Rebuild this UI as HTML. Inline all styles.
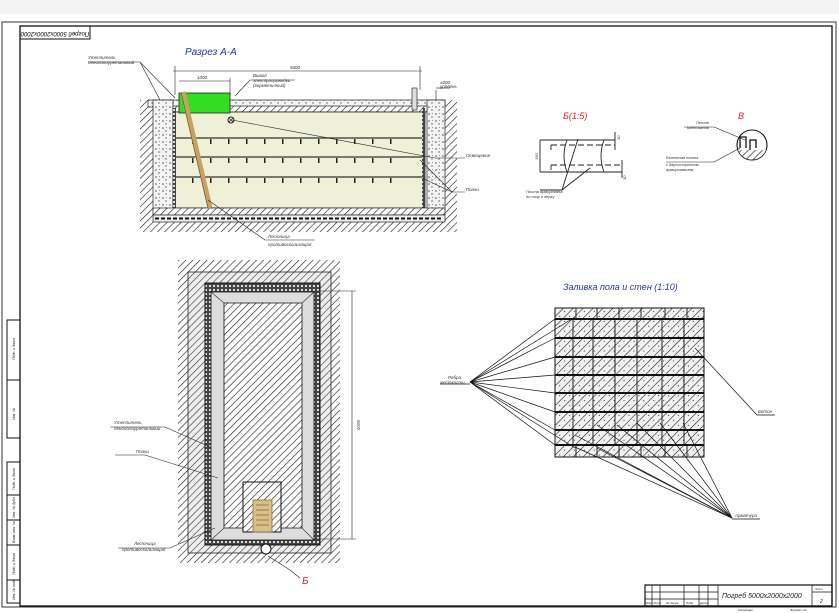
<!DOCTYPE html>
<html><head><meta charset="utf-8"><style>
html,body{margin:0;padding:0;background:#fff;width:839px;height:613px;overflow:hidden}
svg{display:block}
text{font-family:"Liberation Sans",sans-serif;font-style:italic}
</style></head><body>
<svg width="839" height="613" viewBox="0 0 839 613" xmlns="http://www.w3.org/2000/svg">
<defs>
<pattern id="h" width="5" height="5" patternUnits="userSpaceOnUse" patternTransform="rotate(45)"><rect width="5" height="5" fill="#fff"/><line x1="0" y1="0" x2="0" y2="5" stroke="#222" stroke-width="1.3"/></pattern>
<pattern id="hg" width="5" height="5" patternUnits="userSpaceOnUse" patternTransform="rotate(45)"><rect width="5" height="5" fill="#eee"/><line x1="0" y1="0" x2="0" y2="5" stroke="#333" stroke-width="1.2"/></pattern>
<pattern id="sp" width="7" height="7" patternUnits="userSpaceOnUse"><rect width="7" height="7" fill="#f4f4f4"/><circle cx="2" cy="2" r="0.8" fill="#555"/><circle cx="5" cy="5" r="0.7" fill="#555"/><circle cx="5.5" cy="1.5" r="0.5" fill="#777"/></pattern>
<pattern id="ins" width="4" height="4" patternUnits="userSpaceOnUse"><rect width="4" height="4" fill="#444"/><rect x="1" y="1" width="2" height="2" fill="#ddd"/></pattern>
<pattern id="gc" width="7" height="7" patternUnits="userSpaceOnUse" patternTransform="rotate(45)"><rect width="7" height="7" fill="#f2f2f2"/><line x1="0" y1="0" x2="0" y2="7" stroke="#222" stroke-width="1.2"/><circle cx="3.5" cy="3" r="0.6" fill="#444"/></pattern>
</defs>
<rect x="0" y="0" width="839" height="14" fill="#f3f3f3"/>
<!-- frame -->
<rect x="2" y="22" width="834" height="585" fill="none" stroke="#333" stroke-width="1"/>
<rect x="20" y="26" width="812" height="580" fill="none" stroke="#111" stroke-width="1.3"/>
<rect x="20" y="26" width="70" height="13" fill="none" stroke="#111"/>
<text x="55" y="33" font-size="6" text-anchor="middle" transform="rotate(180 55 32.5)" font-style="normal">Погреб 5000x2000x2000</text>
<rect x="7" y="320" width="13" height="118" fill="none" stroke="#111"/>
<line x1="7" y1="380" x2="20" y2="380" stroke="#111"/>
<rect x="7" y="462" width="13" height="141" fill="none" stroke="#111"/>
<line x1="7" y1="495" x2="20" y2="495" stroke="#111"/><line x1="7" y1="520" x2="20" y2="520" stroke="#111"/><line x1="7" y1="545" x2="20" y2="545" stroke="#111"/><line x1="7" y1="580" x2="20" y2="580" stroke="#111"/>
<g font-size="3.5" font-style="normal" fill="#222">
<text transform="translate(15,360) rotate(-90)">Подп. и дата</text>
<text transform="translate(15,420) rotate(-90)">Инв. №</text>
<text transform="translate(15,490) rotate(-90)">Подп. и дата</text>
<text transform="translate(15,518) rotate(-90)">Инв. № дубл.</text>
<text transform="translate(15,543) rotate(-90)">Взам. инв. №</text>
<text transform="translate(15,575) rotate(-90)">Подп. и дата</text>
<text transform="translate(15,600) rotate(-90)">Инв. № подл.</text>
</g>

<!-- Section A-A -->
<text x="185" y="55" font-size="10" fill="#2633a8">Разрез А-А</text>
<rect x="140" y="100" width="13" height="132" fill="url(#h)"/>
<rect x="445" y="100" width="12" height="132" fill="url(#h)"/>
<rect x="140" y="222" width="317" height="10" fill="url(#h)"/>
<rect x="148" y="100" width="297" height="7" fill="url(#sp)" stroke="#222" stroke-width="0.7"/>
<rect x="153" y="100" width="20" height="110" fill="url(#sp)" stroke="#222" stroke-width="0.7"/>
<rect x="427" y="100" width="18" height="110" fill="url(#sp)" stroke="#222" stroke-width="0.7"/>
<rect x="173" y="106" width="254" height="6" fill="url(#h)" stroke="#222" stroke-width="0.7"/>
<rect x="173" y="112" width="252" height="96" fill="#eef0d8" stroke="#222" stroke-width="0.8"/>
<rect x="173" y="108" width="3" height="100" fill="url(#ins)"/>
<rect x="422" y="108" width="3" height="100" fill="url(#ins)"/>
<rect x="153" y="208" width="292" height="7" fill="url(#h)" stroke="#222" stroke-width="0.7"/>
<rect x="153" y="215" width="292" height="7" fill="#eee" stroke="#222" stroke-width="0.7"/>
<line x1="155" y1="218.5" x2="443" y2="218.5" stroke="#111" stroke-width="2" stroke-dasharray="4 2"/>
<g stroke="#333" stroke-width="1.2">
<line x1="176" y1="138" x2="422" y2="138"/><line x1="176" y1="157" x2="422" y2="157"/><line x1="176" y1="177" x2="422" y2="177"/>
</g>
<g fill="#222">
<g id="d1"><rect x="192" y="139" width="1.5" height="5"/><rect x="210" y="139" width="1.5" height="5"/><rect x="228" y="139" width="1.5" height="5"/><rect x="246" y="139" width="1.5" height="5"/><rect x="264" y="139" width="1.5" height="5"/><rect x="282" y="139" width="1.5" height="5"/><rect x="300" y="139" width="1.5" height="5"/><rect x="318" y="139" width="1.5" height="5"/><rect x="336" y="139" width="1.5" height="5"/><rect x="354" y="139" width="1.5" height="5"/><rect x="372" y="139" width="1.5" height="5"/><rect x="390" y="139" width="1.5" height="5"/></g>
<use href="#d1" y="19"/><use href="#d1" y="39"/>
</g>
<rect x="179" y="93" width="51" height="20" fill="#33dd22" stroke="#222" stroke-width="0.8"/>
<line x1="183" y1="92" x2="210" y2="208" stroke="#c9a060" stroke-width="5"/>
<line x1="181" y1="92" x2="208" y2="208" stroke="#444" stroke-width="0.5"/>
<rect x="412" y="88" width="5" height="22" fill="#ddd" stroke="#333" stroke-width="0.7"/>
<circle cx="231" cy="120" r="3" fill="none" stroke="#222"/>
<line x1="229" y1="118" x2="233" y2="122" stroke="#222" stroke-width="0.6"/><line x1="233" y1="118" x2="229" y2="122" stroke="#222" stroke-width="0.6"/>
<g stroke="#222" stroke-width="0.6" fill="none">
<line x1="173" y1="71" x2="422" y2="71"/><line x1="175" y1="66" x2="175" y2="95"/><line x1="420" y1="66" x2="420" y2="90"/>
<line x1="179" y1="81" x2="230" y2="81"/><line x1="230" y1="78" x2="230" y2="95"/>
<polyline points="88,62 140,62 175,98"/><line x1="140" y1="62" x2="160" y2="100"/>
<polyline points="232,120 435,158 465,158"/>
<polyline points="465,192 452,192 420,160"/><line x1="452" y1="192" x2="422" y2="178"/>
<polyline points="235,96 250,80 295,80"/>
<polyline points="208,200 265,240 315,240"/>
<polyline points="436,90 436,100"/><line x1="436" y1="88" x2="450" y2="88"/>
</g>
<g font-size="4.5" fill="#333">
<text x="88" y="59">Утеплитель</text><text x="88" y="64">пенополиуретановый</text>
<text x="290" y="69">5000</text><text x="197" y="79">1000</text>
<text x="253" y="77">Вывод</text><text x="253" y="82">электропроводки</text><text x="253" y="87">(герметичный)</text>
<text x="440" y="84">±000</text><text x="440" y="88">уровень</text>
<text x="466" y="157">Освещение</text><text x="466" y="191">Полки</text>
<text x="268" y="238">Лестница</text><text x="268" y="246">противоскользящая</text>
</g>

<!-- Plan -->
<rect x="178" y="260" width="162" height="303" fill="url(#h)"/>
<rect x="188" y="272" width="143" height="281" fill="url(#hg)" stroke="#222" stroke-width="0.8"/>
<rect x="205" y="283" width="115" height="262" fill="url(#ins)" stroke="#111"/>
<rect x="211" y="292" width="103" height="248" fill="#ddd" stroke="#111" stroke-width="0.8"/>
<polygon points="224,303 302,303 302,528 224,528" fill="url(#h)" stroke="#111" stroke-width="0.8"/>
<g stroke="#333" stroke-width="0.6"><line x1="211" y1="292" x2="224" y2="303"/><line x1="314" y1="292" x2="302" y2="303"/><line x1="211" y1="540" x2="224" y2="528"/><line x1="314" y1="540" x2="302" y2="528"/></g>
<rect x="243" y="482" width="38" height="50" fill="url(#h)" stroke="#111" stroke-width="1"/>
<rect x="253" y="500" width="19" height="32" fill="#d9bf8a" stroke="#8a6b35" stroke-width="0.8"/>
<g stroke="#8a6b35" stroke-width="0.8"><line x1="256" y1="505" x2="269" y2="505"/><line x1="256" y1="510" x2="269" y2="510"/><line x1="256" y1="515" x2="269" y2="515"/><line x1="256" y1="520" x2="269" y2="520"/><line x1="256" y1="525" x2="269" y2="525"/></g>
<circle cx="266" cy="549" r="5" fill="#fff" stroke="#111"/>
<g stroke="#222" stroke-width="0.6" fill="none">
<line x1="352" y1="291" x2="352" y2="539"/><line x1="314" y1="291" x2="356" y2="291"/><line x1="314" y1="539" x2="356" y2="539"/>
<polyline points="110,427 165,427 210,447"/><polyline points="115,455 145,455 218,478"/><polyline points="118,548 170,548 215,528"/>
<polyline points="300,578 290,570 268,556"/>
</g>
<g font-size="4.5" fill="#333">
<text x="114" y="424">Утеплитель</text><text x="114" y="430">пенополиуретановый</text>
<text x="136" y="453">Полки</text><text x="134" y="545">Лестница</text><text x="122" y="551">противоскользящая</text>
<text transform="translate(357,420) rotate(90)">5000</text>
</g>
<text x="302" y="584" font-size="10" fill="#d22">Б</text>

<!-- B detail -->
<text x="563" y="119" font-size="9" fill="#d22">Б(1:5)</text>
<g stroke="#222" stroke-width="0.9" fill="none">
<line x1="540" y1="140" x2="540" y2="172"/><line x1="615" y1="132" x2="615" y2="150"/><line x1="622" y1="160" x2="622" y2="178"/>
<line x1="540" y1="140" x2="615" y2="140"/><line x1="540" y1="172" x2="622" y2="172"/>
<line x1="551" y1="145" x2="615" y2="145" stroke-dasharray="6 3"/><line x1="551" y1="165" x2="622" y2="165" stroke-dasharray="6 3"/>
<polyline points="551,145 551,150"/><polyline points="551,165 551,170"/>
<path d="M567,140 q-6,16 0,32"/><path d="M604,140 q-6,16 0,32"/>
<polyline points="540,190 562,190 578,139"/><line x1="562" y1="190" x2="590" y2="168"/>
</g>
<g font-size="4" fill="#333"><text x="526" y="193">Плита армирована</text><text x="526" y="198">по низу и верху</text>
<text transform="translate(538,160) rotate(-90)">150</text><text transform="translate(620,140) rotate(-90)">30</text><text transform="translate(626,180) rotate(-90)">30</text></g>
<!-- V detail -->
<text x="738" y="119" font-size="9" fill="#d22">В</text>
<circle cx="752" cy="145" r="15" fill="#fff" stroke="#111" stroke-width="1.1"/>
<path d="M738,150 L766,150 A15,15 0 0 1 738,150 Z" fill="url(#h)"/>
<path d="M740,148 L740,137 L746,137 L746,148 M750,150 L750,140 L756,140 L756,148" fill="none" stroke="#111" stroke-width="1.3"/>
<g stroke="#222" stroke-width="0.6" fill="none"><polyline points="684,127 714,127 745,140"/><polyline points="666,162 714,162 740,148"/></g>
<g font-size="4" fill="#333"><text x="696" y="124">Петля</text><text x="687" y="129">монтажная</text><text x="666" y="159">Бетонная плита</text><text x="666" y="166">с двухсторонним</text><text x="666" y="171">армированием</text></g>

<!-- Grid -->
<text x="563" y="290" font-size="9" fill="#2633a8">Заливка пола и стен (1:10)</text>
<rect x="555" y="308" width="149" height="149" fill="url(#gc)" stroke="#111" stroke-width="1"/>
<g stroke="#111" stroke-width="2">
<line x1="555" y1="319" x2="704" y2="319"/><line x1="555" y1="338" x2="704" y2="338"/><line x1="555" y1="357" x2="704" y2="357"/><line x1="555" y1="375" x2="704" y2="375"/><line x1="555" y1="393" x2="704" y2="393"/><line x1="555" y1="412" x2="704" y2="412"/><line x1="555" y1="430" x2="704" y2="430"/><line x1="555" y1="445" x2="704" y2="445"/>
</g>
<g stroke="#111" stroke-width="0.9">
<line x1="573" y1="319" x2="573" y2="445"/><line x1="593" y1="319" x2="593" y2="445"/><line x1="615" y1="319" x2="615" y2="445"/><line x1="637" y1="319" x2="637" y2="445"/><line x1="662" y1="319" x2="662" y2="445"/><line x1="684" y1="319" x2="684" y2="445"/>
<line x1="576" y1="308" x2="576" y2="319"/><line x1="597" y1="308" x2="597" y2="319"/><line x1="619" y1="308" x2="619" y2="319"/><line x1="641" y1="308" x2="641" y2="319"/><line x1="665" y1="308" x2="665" y2="319"/><line x1="687" y1="308" x2="687" y2="319"/>
<line x1="576" y1="445" x2="576" y2="457"/><line x1="597" y1="445" x2="597" y2="457"/><line x1="619" y1="445" x2="619" y2="457"/><line x1="641" y1="445" x2="641" y2="457"/><line x1="665" y1="445" x2="665" y2="457"/><line x1="687" y1="445" x2="687" y2="457"/>
</g>
<g stroke="#111" stroke-width="0.7" fill="none">
<line x1="470" y1="382" x2="555" y2="319"/><line x1="470" y1="382" x2="575" y2="317"/><line x1="470" y1="382" x2="555" y2="338"/><line x1="470" y1="382" x2="555" y2="357"/><line x1="470" y1="382" x2="555" y2="375"/><line x1="470" y1="382" x2="555" y2="393"/><line x1="470" y1="382" x2="555" y2="412"/><line x1="470" y1="382" x2="555" y2="430"/><line x1="470" y1="382" x2="555" y2="445"/><line x1="470" y1="382" x2="575" y2="448"/>
<line x1="732" y1="518" x2="575" y2="435"/><line x1="732" y1="518" x2="597" y2="425"/><line x1="732" y1="518" x2="617" y2="425"/><line x1="732" y1="518" x2="637" y2="423"/><line x1="732" y1="518" x2="660" y2="423"/><line x1="732" y1="518" x2="683" y2="423"/><line x1="732" y1="518" x2="575" y2="447"/><line x1="732" y1="518" x2="597" y2="448"/>
<polyline points="695,348 757,415 775,415"/>
<line x1="440" y1="384" x2="470" y2="384"/><line x1="732" y1="519" x2="760" y2="519"/>
</g>
<g font-size="4.5" fill="#333"><text x="448" y="379">Ребра</text><text x="440" y="384">жесткости</text><text x="758" y="413">Бетон</text><text x="735" y="517">Арматура</text></g>

<!-- Title block -->
<rect x="645" y="585" width="187" height="21" fill="none" stroke="#111" stroke-width="1.2"/>
<g stroke="#111" stroke-width="0.7">
<line x1="645" y1="592" x2="718" y2="592"/><line x1="645" y1="599" x2="718" y2="599"/><line x1="718" y1="585" x2="718" y2="606"/><line x1="812" y1="585" x2="812" y2="606"/><line x1="812" y1="592" x2="832" y2="592"/>
<line x1="652" y1="585" x2="652" y2="606"/><line x1="660" y1="585" x2="660" y2="606"/><line x1="684" y1="585" x2="684" y2="606"/><line x1="699" y1="585" x2="699" y2="606"/><line x1="708" y1="585" x2="708" y2="606"/>
</g>
<text x="722" y="598" font-size="7" fill="#222">Погреб 5000x2000x2000</text>
<text x="820" y="603" font-size="5" fill="#222">2</text>
<g font-size="3" fill="#222" font-style="normal"><text x="646" y="604">Изм. Лист</text><text x="666" y="604">№ докум.</text><text x="686" y="604">Подп.</text><text x="700" y="604">Дата</text><text x="815" y="590">Лист</text><text x="738" y="611">Копировал</text><text x="790" y="611">Формат А3</text></g>
</svg>
</body></html>
